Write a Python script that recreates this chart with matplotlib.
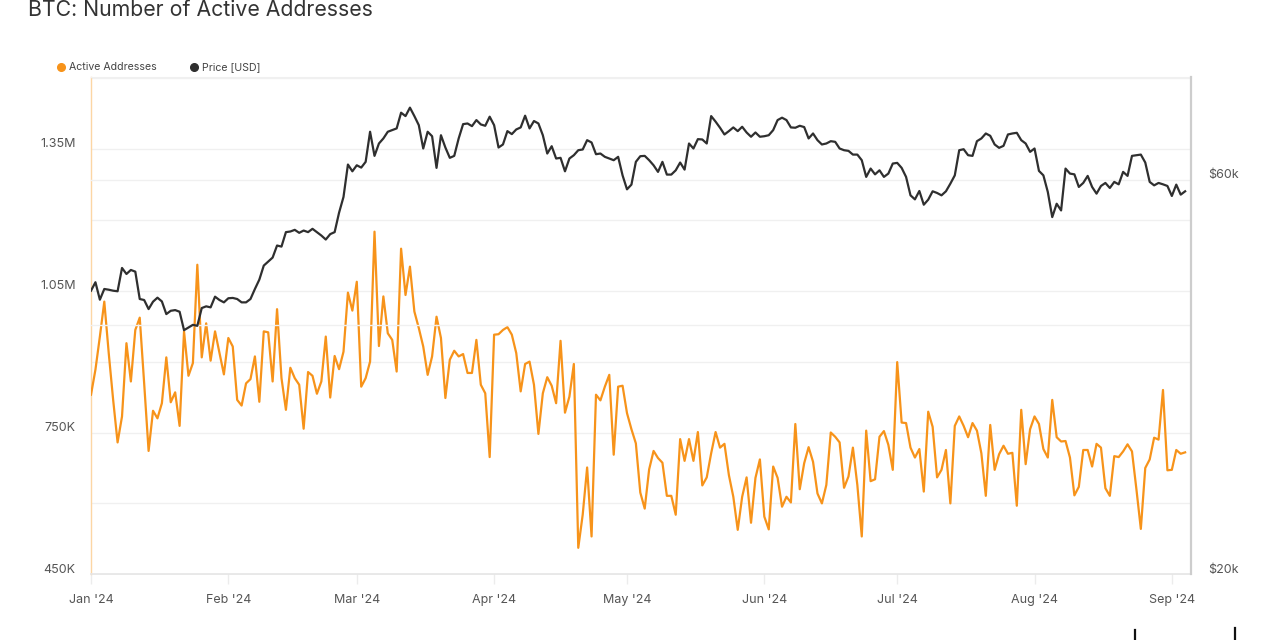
import matplotlib
matplotlib.use("Agg")
import matplotlib.pyplot as plt
import matplotlib.transforms as mtransforms
from matplotlib.lines import Line2D
from matplotlib.ticker import FixedLocator, NullLocator
import numpy as np
import pandas as pd

plt.rcParams['font.family'] = ['Inter', 'DejaVu Sans']

# daily values, Jan 1 - Sep 4 2024
dates = pd.date_range('2024-01-01', periods=248, freq='D')

# active addresses, thousands
active_k = [
    830, 883, 953, 1027, 918, 819, 729, 784, 939, 858,
    967, 993, 854, 711, 796, 780, 812, 909, 814, 835,
    764, 964, 870, 897, 1105, 909, 981, 902, 964, 918,
    873, 950, 932, 819, 807, 854, 863, 911, 815, 964,
    962, 858, 1011, 865, 798, 887, 865, 851, 758, 878,
    870, 832, 858, 953, 824, 912, 884, 921, 1046, 1008,
    1069, 847, 865, 900, 1175, 933, 1038, 960, 946, 879,
    1139, 1041, 1101, 1006, 971, 932, 872, 911, 995, 950,
    823, 904, 923, 911, 916, 876, 876, 946, 851, 833,
    698, 957, 958, 967, 973, 957, 918, 837, 895, 900,
    851, 747, 833, 867, 849, 812, 944, 792, 826, 895,
    506, 576, 676, 530, 830, 818, 847, 872, 703, 847,
    849, 791, 757, 727, 623, 589, 672, 711, 696, 686,
    616, 616, 576, 736, 690, 736, 690, 751, 638, 655,
    706, 751, 718, 726, 660, 614, 544, 614, 655, 559,
    654, 693, 572, 545, 678, 654, 593, 614, 602, 768,
    630, 685, 719, 688, 621, 600, 639, 750, 741, 729,
    633, 657, 718, 639, 530, 754, 647, 651, 741, 753,
    724, 671, 899, 771, 770, 718, 697, 715, 625, 794,
    762, 655, 671, 713, 600, 764, 784, 764, 740, 770,
    754, 706, 616, 766, 671, 704, 722, 705, 707, 595,
    798, 683, 757, 784, 768, 715, 697, 819, 740, 731,
    732, 697, 617, 635, 713, 713, 678, 726, 718, 632,
    616, 700, 698, 710, 725, 710, 630, 546, 675, 693,
    739, 735, 840, 670, 671, 713, 705, 708,
]

# BTC price, thousands of USD
price_k = [
    44.07, 45.12, 42.98, 44.28, 44.19, 44.07, 44.00, 46.95, 46.17, 46.69,
    46.47, 43.06, 42.94, 41.87, 42.74, 43.22, 42.77, 41.29, 41.67, 41.75,
    41.56, 39.48, 39.78, 40.07, 39.96, 41.99, 42.19, 42.07, 43.34, 42.94,
    42.66, 43.15, 43.19, 43.06, 42.66, 42.66, 43.06, 44.28, 45.45, 47.26,
    47.79, 48.33, 49.98, 49.83, 51.88, 51.97, 52.21, 51.78, 52.11, 51.88,
    52.36, 51.88, 51.39, 50.82, 51.59, 51.88, 54.77, 57.22, 62.63, 61.46,
    62.50, 62.10, 63.10, 68.62, 64.16, 66.41, 67.35, 68.62, 68.93, 69.26,
    72.36, 71.68, 73.39, 71.68, 69.89, 65.49, 68.62, 67.77, 62.05, 67.96,
    65.67, 63.81, 64.16, 67.35, 70.09, 70.22, 69.70, 70.89, 70.03, 69.77,
    71.56, 69.89, 65.67, 66.23, 68.74, 68.17, 69.06, 69.45, 71.76, 69.26,
    70.70, 70.22, 67.96, 64.58, 65.91, 63.69, 63.81, 61.46, 63.69, 64.28,
    65.18, 65.31, 67.03, 66.60, 64.46, 64.58, 63.99, 63.69, 63.39, 63.99,
    60.77, 58.45, 59.22, 63.10, 64.10, 64.16, 63.39, 62.50, 61.36, 63.10,
    60.90, 60.90, 61.63, 62.98, 61.75, 66.41, 65.49, 67.22, 67.16, 66.41,
    71.68, 70.58, 69.39, 68.10, 68.74, 69.45, 68.74, 69.58, 68.48, 67.67,
    68.48, 67.67, 67.77, 67.96, 68.93, 70.89, 71.36, 70.89, 69.45, 69.39,
    69.77, 69.52, 67.35, 68.29, 67.03, 66.23, 66.41, 66.84, 66.72, 65.49,
    65.18, 65.06, 64.39, 64.39, 63.39, 60.51, 61.93, 60.94, 61.63, 60.51,
    61.07, 62.80, 62.92, 62.05, 60.51, 57.48, 56.84, 58.18, 56.00, 56.79,
    58.13, 57.86, 57.48, 58.13, 59.38, 60.77, 65.18, 65.36, 64.28, 64.16,
    66.84, 67.35, 68.29, 67.85, 66.23, 65.61, 65.98, 68.10, 68.29, 68.42,
    67.03, 66.41, 64.88, 65.49, 61.53, 60.77, 58.02, 54.10, 56.15, 55.11,
    61.93, 61.07, 60.94, 58.84, 59.50, 60.68, 58.84, 57.75, 59.00, 59.50,
    58.67, 59.67, 59.27, 61.36, 60.68, 64.16, 64.28, 64.39, 62.98, 59.67,
    59.10, 59.50, 59.27, 59.00, 57.38, 59.22, 57.59, 58.13,
]

addr_ticks = [450e3, 600e3, 750e3, 900e3, 1050e3, 1200e3, 1350e3, 1500e3]
addr_labels = ['450K', '', '750K', '', '1.05M', '', '1.35M', '']
price_ticks = [20e3, 40e3, 60e3, 80e3]
price_labels = ['$20k', '', '$60k', '']
month_ticks = pd.date_range('2024-01-01', '2024-09-01', freq='MS')
month_labels = [d.strftime("%b '%y") for d in month_ticks]

ORANGE = '#f7931a'
DARK = '#2f2f2f'
GRID = '#f0f0f0'
TXT = '#555555'

fig = plt.figure(figsize=(12.8, 6.4), dpi=100)
ax = fig.add_axes([0.0711, 0.1027, 0.8594, 0.7775])
ax2 = ax.twinx()

ax.plot(dates, np.array(active_k) * 1000, color=ORANGE, lw=1.6, zorder=3)
ax2.plot(dates, np.array(price_k) * 1000, color=DARK, lw=1.6, zorder=3)

ax.set_xlim(pd.Timestamp('2024-01-01'), pd.Timestamp('2024-09-05 08:00'))
ax.set_ylim(450e3, 1503e3)
ax2.set_yscale('log')
ax2.set_ylim(20e3, 80e3)

ax.set_yticks(addr_ticks, addr_labels)
ax2.yaxis.set_major_locator(FixedLocator(price_ticks))
ax2.yaxis.set_minor_locator(NullLocator())
ax2.set_yticklabels(price_labels)
ax.set_xticks(month_ticks, month_labels)

ax.grid(axis='y', color=GRID, lw=1)
ax2.grid(axis='y', color=GRID, lw=1)
ax.set_axisbelow(True)
ax2.set_axisbelow(True)

ax.tick_params(axis='y', length=0, pad=11, labelsize=9, labelcolor=TXT)
ax2.tick_params(axis='y', length=0, pad=12, labelsize=9, labelcolor=TXT)
ax.tick_params(axis='x', length=7.5, width=1, color='#ececec', pad=7,
               labelsize=9, labelcolor=TXT)

# labels sit a bit above their gridlines
shift = mtransforms.ScaledTranslation(0, 6 / 100, fig.dpi_scale_trans)
for lbl in ax.get_yticklabels() + ax2.get_yticklabels():
    lbl.set_transform(lbl.get_transform() + shift)

for s in ['top', 'right', 'bottom', 'left']:
    ax2.spines[s].set_visible(False)
ax.spines['right'].set_visible(False)
ax.spines['left'].set_color('#fcd6a4')
ax.spines['left'].set_linewidth(1)
ax.spines['top'].set_color(GRID)
ax.spines['bottom'].set_color('#e4e4e4')
ax.spines['bottom'].set_linewidth(1.2)
ax2.spines['right'].set_visible(True)
ax2.spines['right'].set_color('#cdcdcd')
ax2.spines['right'].set_linewidth(1.6)

fig.text(28 / 1280, 1 - 16 / 640, 'BTC: Number of Active Addresses',
         fontsize=15.3, color='#333333', va='baseline')

# legend
for xd, xt, c, name in [(61, 69, ORANGE, 'Active Addresses'),
                        (194, 202, DARK, 'Price [USD]')]:
    fig.add_artist(Line2D([xd / 1280], [1 - 67 / 640], marker='o', ms=5.5,
                          color=c, transform=fig.transFigure))
    fig.text(xt / 1280, 1 - 67 / 640, name, fontsize=7.6, color='#444444',
             va='center')

# cut-off logo strokes at the bottom right
for xl, top in [(1135, 630), (1235, 628)]:
    fig.add_artist(Line2D([xl / 1280] * 2, [0, 1 - top / 640], lw=1.6,
                          color='#111111', transform=fig.transFigure))

fig.savefig('out.png', dpi=100, facecolor='white')
